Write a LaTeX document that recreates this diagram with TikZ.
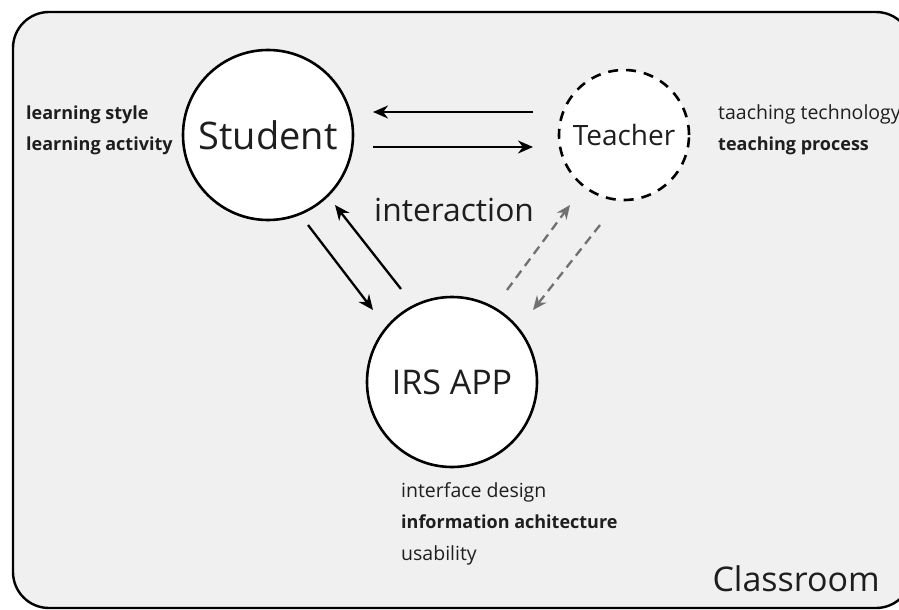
\documentclass[tikz,border=0pt]{standalone}
\usepackage{fontspec}
\setmainfont{Open Sans}
\usetikzlibrary{arrows.meta,calc}
\definecolor{bgframe}{HTML}{F0F0F0}
\definecolor{txt}{HTML}{1E1E1E}
\definecolor{grayarr}{HTML}{707070}
\begin{document}
\begin{tikzpicture}[x=1pt,y=-1pt,
  bubble/.style={circle,draw=black,line width=2.6pt,fill=white,inner sep=0pt,text=txt},
  arr/.style={line width=2.3pt,-{Stealth[length=15pt,width=13pt]}},
  garr/.style={line width=2.3pt,draw=grayarr,dash pattern=on 9pt off 6pt,-{Stealth[length=14pt,width=12pt,fill=grayarr]}},
  lbl/.style={anchor=base west,inner sep=0pt,text=txt,font=\fontsize{19.5}{22}\selectfont},
  blbl/.style={lbl,font=\fontsize{18}{20}\selectfont\bfseries}]
\useasboundingbox (0,0) rectangle (899,610);
\draw[line width=2.4pt,fill=bgframe,rounded corners=36pt] (13,12) rectangle (912,608);
% nodes
\node[bubble,minimum size=170pt,font=\fontsize{38}{42}\selectfont] (s) at (268,135) {Student};
\node[bubble,minimum size=130pt,dash pattern=on 10pt off 8pt,font=\fontsize{28}{32}\selectfont] (t) at (624,135) {Teacher};
\node[bubble,minimum size=170pt,font=\fontsize{34}{38}\selectfont] (i) at (452,382) {IRS APP};
% labels
\node[blbl] (ls) at (26,119) {learning style};
\node[blbl] (la) at (26,150) {learning activity};
\node[lbl] (tt) at (718,119) {taaching technology};
\node[blbl] (tp) at (718,150) {teaching process};
\node[lbl] (id) at (401,497) {interface design};
\node[blbl] (ia) at (401,528) {information achitecture};
\node[lbl] (us) at (401,560) {usability};
\node[anchor=base east,inner sep=0pt,text=txt,font=\fontsize{34}{38}\selectfont] (cl) at (880,591) {Classroom};
\node[anchor=base west,inner sep=0pt,text=txt,font=\fontsize{31.8}{36}\selectfont] (ix) at (374,221) {interaction};
% connectors
\draw[arr] ($(t)+(-91,-23)$) -- ($(s)+(105,-23)$);
\draw[arr] ($(s)+(105,12)$) -- ($(t)+(-91,12)$);
\draw[arr] ($(s)+(40,90)$) -- ($(i)+(-79,-72)$);
\draw[arr] ($(i)+(-51,-93)$) -- ($(s)+(67,70)$);
\draw[garr] ($(i)+(55,-92)$) -- ($(t)+(-54,70)$);
\draw[garr] ($(t)+(-24,90)$) -- ($(i)+(81,-72)$);
\end{tikzpicture}
\end{document}
